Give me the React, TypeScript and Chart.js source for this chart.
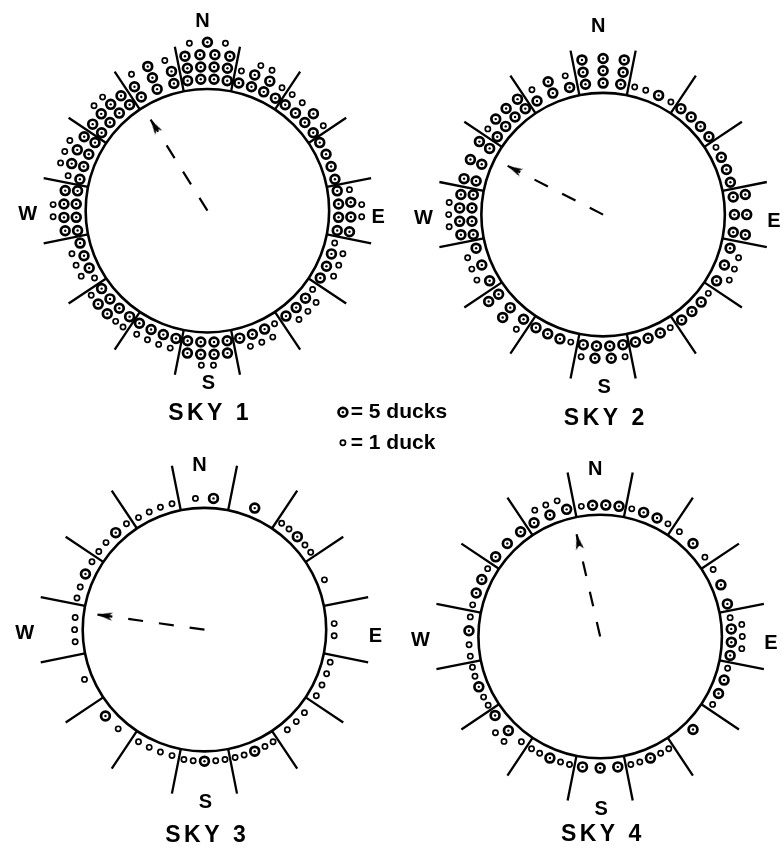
import React, { useEffect, useRef } from 'react';
import { Chart, registerables } from 'chart.js';

Chart.register(...registerables);

// ---------------- data ----------------
const SECTORS = ['N', 'NNE', 'NE', 'ENE', 'E', 'ESE', 'SE', 'SSE', 'S', 'SSW', 'SW', 'WSW', 'W', 'WNW', 'NW', 'NNW'];
const SKY_LABELS = ['SKY 1', 'SKY 2', 'SKY 3', 'SKY 4'];
const COMPASS = ['N', 'E', 'S', 'W'];
const LEGEND_TEXT = ['= 5 ducks', '= 1 duck'];

// number of "5 ducks" symbols and "1 duck" symbols per sector (N, NNE, ... NNW)
const sky1Five = [13, 6, 5, 4, 7, 3, 3, 3, 8, 4, 6, 3, 8, 7, 8, 7];
const sky1One = [2, 4, 3, 0, 3, 4, 4, 4, 2, 4, 3, 4, 2, 4, 2, 2];
const sky2Five = [9, 1, 4, 3, 6, 3, 3, 3, 6, 3, 5, 3, 8, 6, 7, 4];
const sky2One = [0, 3, 0, 1, 0, 3, 1, 1, 2, 1, 1, 3, 3, 0, 1, 2];
const sky3Five = [1, 1, 1, 0, 0, 0, 0, 1, 1, 0, 1, 0, 0, 1, 1, 0];
const sky3One = [1, 0, 4, 1, 2, 4, 3, 4, 4, 4, 1, 1, 3, 3, 3, 4];
const sky4Five = [3, 2, 1, 2, 3, 2, 1, 1, 3, 1, 2, 1, 1, 2, 3, 3];
const sky4One = [1, 2, 2, 1, 4, 2, 0, 4, 0, 4, 3, 4, 3, 2, 0, 3];

// mean direction (degrees clockwise from N) and relative length of the mean vector
const meanBearing = [328, 297, 278, 347];
const meanLength = [0.88, 0.88, 0.89, 0.86];

const FIVE = [sky1Five, sky2Five, sky3Five, sky4Five];
const ONE = [sky1One, sky2One, sky3One, sky4One];

// ---------------- layout ----------------
const WIDTH = 784;
const HEIGHT = 860;
const CENTERS = [
  [204, 207],
  [607, 211],
  [201, 633],
  [604, 640],
];
const R = 124;
const SPOKE_OUT = 170;
const N_DIST = [192, 191, 167, 170];
const SKY_DIST = [206, 207, 209, 201];
const FONT = '"Liberation Sans", Arial, sans-serif';

const BIG_W = 13.5;
const SMALL_W = 9.5;
const BIG_H = 12.5;
const SMALL_H = 9.5;

const rad = (d: number) => (d * Math.PI) / 180;
const polar = (cx: number, cy: number, r: number, bearingRad: number) => ({
  x: cx + r * Math.sin(bearingRad),
  y: cy - r * Math.cos(bearingRad),
});
const iw = (t: number) => (t ? BIG_W : SMALL_W);
const ih = (t: number) => (t ? BIG_H : SMALL_H);
const arcAt = (r: number) => r * (Math.PI / 8);
const START = R + 3.5;

function fits(rows: number[][]) {
  let rIn = START;
  for (const row of rows) {
    const h = ih(row[0]);
    const w = row.reduce((a, t) => a + iw(t), 0);
    if (w > arcAt(rIn + h / 2) + 1.5) return false;
    rIn += h;
  }
  return true;
}

function planRows(items: number[]) {
  // greedy packing first
  const greedy: number[][] = [];
  let rIn = START;
  let k = 0;
  while (k < items.length) {
    const h = ih(items[k]);
    const avail = arcAt(rIn + h / 2) + 1.5;
    const row: number[] = [];
    let w = 0;
    while (k < items.length && w + iw(items[k]) <= avail) {
      row.push(items[k]);
      w += iw(items[k]);
      k++;
    }
    if (!row.length) {
      row.push(items[k]);
      k++;
    }
    greedy.push(row);
    rIn += h;
  }
  // rebalance so rows hold similar counts
  const n = greedy.length;
  const target = Math.ceil(items.length / n);
  const balanced: number[][] = [];
  for (let i = 0; i < items.length; i += target) balanced.push(items.slice(i, i + target));
  return balanced.length === n && fits(balanced) ? balanced : greedy;
}

function layoutDots(sky: number) {
  const [cx, cy] = CENTERS[sky];
  const big: { x: number; y: number }[] = [];
  const small: { x: number; y: number }[] = [];
  SECTORS.forEach((_, s) => {
    const bearing = rad(s * 22.5);
    const items: number[] = [];
    for (let i = 0; i < FIVE[sky][s]; i++) items.push(1);
    for (let i = 0; i < ONE[sky][s]; i++) items.push(0);
    const rows = planRows(items);
    let rIn = START;
    rows.forEach((row) => {
      const h = ih(row[0]);
      const rc = rIn + h / 2;
      const ordered: number[] = row.filter((t) => t === 1);
      row
        .filter((t) => t === 0)
        .forEach((t, j) => {
          if (j % 2 === 0) ordered.unshift(t);
          else ordered.push(t);
        });
      const offsets: number[] = [0];
      for (let j = 1; j < ordered.length; j++) {
        offsets.push(offsets[j - 1] + (iw(ordered[j - 1]) + iw(ordered[j])) / 2);
      }
      const span = offsets[offsets.length - 1];
      let factor = 1;
      if (ordered.length > 1) {
        const availSpan =
          arcAt(rc) - (iw(ordered[0]) + iw(ordered[ordered.length - 1])) / 2 - 3;
        const cap = ordered.every((t) => t === 0) ? 1.3 : 1.6;
        factor = Math.max(1, Math.min(availSpan / span, cap));
      }
      ordered.forEach((t, j) => {
        const off = (offsets[j] - span / 2) * factor;
        (t ? big : small).push(polar(cx, cy, rc, bearing + off / rc));
      });
      rIn += h;
    });
  });
  return { big, small };
}

function spokes(sky: number) {
  const [cx, cy] = CENTERS[sky];
  const pts: { x: number; y: number }[] = [];
  SECTORS.forEach((_, s) => {
    const a = rad(s * 22.5 + 11.25);
    pts.push(polar(cx, cy, R, a));
    pts.push(polar(cx, cy, SPOKE_OUT, a));
    pts.push({ x: NaN, y: NaN });
  });
  return pts;
}

function makeArrowHead() {
  const c = document.createElement('canvas');
  c.width = 9;
  c.height = 16;
  const g = c.getContext('2d')!;
  g.fillStyle = '#000';
  g.beginPath();
  g.moveTo(4.5, 0);
  g.lineTo(8.6, 15.5);
  g.lineTo(4.5, 11.5);
  g.lineTo(0.4, 15.5);
  g.closePath();
  g.fill();
  return c;
}

function bigSymbol(ctx: CanvasRenderingContext2D, x: number, y: number) {
  ctx.strokeStyle = '#000';
  ctx.lineWidth = 2.7;
  ctx.fillStyle = '#fff';
  ctx.beginPath();
  ctx.arc(x, y, 4.4, 0, Math.PI * 2);
  ctx.fill();
  ctx.stroke();
  ctx.fillStyle = '#000';
  ctx.beginPath();
  ctx.arc(x, y, 1.2, 0, Math.PI * 2);
  ctx.fill();
}

function smallSymbol(ctx: CanvasRenderingContext2D, x: number, y: number) {
  ctx.strokeStyle = '#000';
  ctx.lineWidth = 1.7;
  ctx.fillStyle = '#fff';
  ctx.beginPath();
  ctx.arc(x, y, 2.6, 0, Math.PI * 2);
  ctx.fill();
  ctx.stroke();
}

const figurePlugin = {
  id: 'figure',
  beforeDatasetsDraw(chart: any) {
    const { ctx, scales } = chart;
    const X = (v: number) => scales.x.getPixelForValue(v);
    const Y = (v: number) => scales.y.getPixelForValue(v);
    ctx.save();
    ctx.strokeStyle = '#000';
    ctx.lineWidth = 2.6;
    CENTERS.forEach(([cx, cy]) => {
      const rr = X(cx + R) - X(cx);
      ctx.beginPath();
      ctx.arc(X(cx), Y(cy), rr, 0, Math.PI * 2);
      ctx.stroke();
    });
    ctx.restore();
  },
  afterDatasetsDraw(chart: any) {
    const { ctx, scales } = chart;
    const X = (v: number) => scales.x.getPixelForValue(v);
    const Y = (v: number) => scales.y.getPixelForValue(v);
    ctx.save();
    ctx.fillStyle = '#000';
    ctx.textBaseline = 'middle';
    ctx.textAlign = 'center';
    CENTERS.forEach(([cx, cy], i) => {
      ctx.font = `bold 20px ${FONT}`;
      const offs: Record<string, [number, number]> = {
        N: [-5, -N_DIST[i]],
        E: [174, 7],
        S: [1, 176],
        W: [-183, 4],
      };
      COMPASS.forEach((c) => {
        const [dx, dy] = offs[c];
        ctx.fillText(c, X(cx + dx), Y(cy + dy));
      });
      // sky label with letter spacing
      ctx.font = `bold 23px ${FONT}`;
      const label = SKY_LABELS[i];
      const sp = 3.5;
      const widths = label.split('').map((ch) => ctx.measureText(ch).width);
      const total = widths.reduce((a, b) => a + b, 0) + sp * (label.length - 1);
      let x = X(cx + 1) - total / 2;
      ctx.textAlign = 'left';
      label.split('').forEach((ch, j) => {
        ctx.fillText(ch, x, Y(cy + SKY_DIST[i]));
        x += widths[j] + sp;
      });
      ctx.textAlign = 'center';
    });
    // legend
    const lx = X(342);
    const ly = [Y(412), Y(443)];
    bigSymbol(ctx, lx, ly[0]);
    smallSymbol(ctx, lx, ly[1]);
    ctx.fillStyle = '#000';
    ctx.font = `bold 21px ${FONT}`;
    ctx.textAlign = 'left';
    ctx.fillText(LEGEND_TEXT[0], X(350), ly[0]);
    ctx.fillText(LEGEND_TEXT[1], X(350), ly[1]);
    ctx.restore();
  },
};

export default function App() {
  const ref = useRef<HTMLCanvasElement | null>(null);
  useEffect(() => {
    document.body.style.margin = '0';
    const canvas = ref.current!;
    const arrowHead = makeArrowHead();
    const bigPts: { x: number; y: number }[] = [];
    const smallPts: { x: number; y: number }[] = [];
    const spokePts: { x: number; y: number }[] = [];
    CENTERS.forEach((_, i) => {
      const d = layoutDots(i);
      bigPts.push(...d.big);
      smallPts.push(...d.small);
      spokePts.push(...spokes(i));
    });
    const arrowSets = CENTERS.map(([cx, cy], i) => {
      const b = rad(meanBearing[i]);
      const tip = polar(cx, cy, meanLength[i] * R, b);
      return {
        label: `arrow${i + 1}`,
        data: [{ x: cx, y: cy }, tip],
        showLine: true,
        borderColor: '#000',
        borderWidth: 2.2,
        borderDash: [15, 16],
        pointRadius: 0,
        order: 5,
      };
    });
    const headPts = CENTERS.map(([cx, cy], i) =>
      polar(cx, cy, meanLength[i] * R - 8, rad(meanBearing[i]))
    );
    const chart = new Chart(canvas, {
      type: 'scatter',
      data: {
        datasets: [
          {
            label: 'spokes',
            data: spokePts,
            showLine: true,
            spanGaps: false,
            borderColor: '#000',
            borderWidth: 2.3,
            pointRadius: 0,
            order: 6,
          },
          ...arrowSets,
          {
            label: 'head',
            data: headPts,
            pointStyle: arrowHead as any,
            rotation: meanBearing as any,
            pointRadius: 5,
            order: 4,
          },
          {
            label: '5 ducks',
            data: bigPts,
            pointStyle: 'circle',
            pointRadius: 4.4,
            pointBorderWidth: 2.7,
            pointBackgroundColor: '#fff',
            pointBorderColor: '#000',
            order: 3,
          },
          {
            label: '5 ducks centre',
            data: bigPts,
            pointStyle: 'circle',
            pointRadius: 1.2,
            pointBorderWidth: 0,
            pointBackgroundColor: '#000',
            order: 2,
          },
          {
            label: '1 duck',
            data: smallPts,
            pointStyle: 'circle',
            pointRadius: 2.6,
            pointBorderWidth: 1.7,
            pointBackgroundColor: '#fff',
            pointBorderColor: '#000',
            order: 1,
          },
        ] as any,
      },
      options: {
        animation: false,
        responsive: false,
        devicePixelRatio: 1,
        events: [],
        layout: { padding: 0 },
        scales: {
          x: { type: 'linear', min: 0, max: WIDTH, display: false },
          y: { type: 'linear', min: 0, max: HEIGHT, reverse: true, display: false },
        },
        plugins: { legend: { display: false }, tooltip: { enabled: false } },
      } as any,
      plugins: [figurePlugin],
    });
    return () => chart.destroy();
  }, []);
  return (
    <div style={{ width: WIDTH, height: HEIGHT, background: '#fff' }}>
      <canvas ref={ref} width={WIDTH} height={HEIGHT} style={{ display: 'block' }} />
    </div>
  );
}
